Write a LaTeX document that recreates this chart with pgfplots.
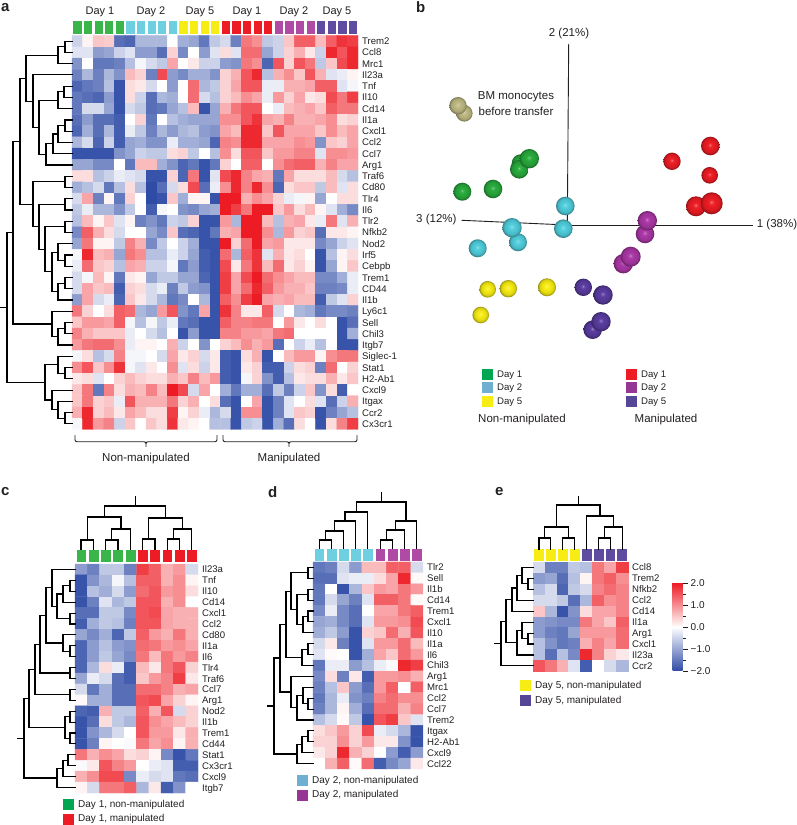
\documentclass[border=0pt]{standalone}
\usepackage{pgfplots}
\usepackage{fontspec}
\setmainfont{Liberation Sans}
\pgfplotsset{compat=1.18}
\definecolor{tc}{RGB}{35,31,32}
\definecolor{colg}{RGB}{57,181,74}
\definecolor{colc}{RGB}{109,207,223}
\definecolor{coly}{RGB}{247,236,19}
\definecolor{colr}{RGB}{237,28,36}
\definecolor{colm}{RGB}{176,75,165}
\definecolor{colp}{RGB}{95,75,159}
\definecolor{lc}{RGB}{110,175,210}
\definecolor{lm}{RGB}{150,55,150}
\definecolor{lg}{RGB}{0,166,81}
\definecolor{lp}{RGB}{85,70,150}
\definecolor{bt}{RGB}{190,185,130}
\definecolor{bg}{RGB}{40,170,60}
\definecolor{bc}{RGB}{80,205,220}
\definecolor{bm}{RGB}{170,55,165}
\definecolor{bp}{RGB}{90,60,160}
\newcommand\fa{\fontsize{9.6}{11}\selectfont}
\newcommand\fb{\fontsize{11.5}{13}\selectfont}
\newcommand\fc{\fontsize{10}{12}\selectfont}
\newcommand\mksph[1]{%
  \pgfdeclareradialshading{s#1}{\pgfpoint{-1bp}{3bp}}{color(0bp)=(#1!50!white); color(3bp)=(#1!88!white); color(8bp)=(#1); color(19bp)=(#1!90!black); color(25bp)=(#1!62!black); color(50bp)=(#1!62!black)}%
  \pgfdeclareplotmark{m#1}{\pgfpathcircle{\pgfpointorigin}{\pgfplotmarksize}\pgfshadepath{s#1}{0}\pgfusepath{discard}}}
\mksph{bt}\mksph{bg}\mksph{bc}\mksph{bm}\mksph{bp}\mksph{colr}\mksph{coly}
\pgfplotsset{
  colormap={bwr}{rgb255(0cm)=(46,75,166); rgb255(1cm)=(255,255,255); rgb255(2cm)=(237,28,36)},
  hm/.style={scale only axis, clip=false, y dir=reverse, axis line style={draw=none},
    colormap name=bwr, point meta min=-2, point meta max=2,
    xtick=\empty, yticklabel pos=right, major tick length=0pt, tick style={draw=none},
    enlargelimits=false,
    yticklabel style={anchor=west, inner sep=0pt, xshift=4pt, font=\fa, text=tc, text height=7pt, text depth=0pt}},
  px/.style={scale only axis, hide axis, clip=false, y dir=reverse},
  den/.style={no marks, black, line width=1.1pt, line cap=rect, forget plot},
  sa/.style={only marks, mark=square*, mark size=6, mark options={xscale=0.6,draw=none,fill=#1}, color=#1},
  sb/.style={only marks, mark=square*, mark size=5.5, mark options={xscale=0.8,draw=none,fill=#1}, color=#1},
}
\newcommand\heat[2]{\addplot[matrix plot*,mesh/cols=#1,mesh/ordering=x varies,point meta=explicit] table[header=false,row sep=crcr,x expr={\coordindex-#1*floor((\coordindex+0.5)/#1)},y expr={floor((\coordindex+0.5)/#1)},meta index=0]{#2};}
\newcommand\lk[5]{\addplot[den] coordinates {(#1,#2)(#3,#2)(#3,#4)(#5,#4)};}
\newcommand\tk[5]{\addplot[den] coordinates {(#1,#2)(#1,#3)(#4,#3)(#4,#5)};}
\newcommand\sph[4]{\addplot[only marks,mark=m#1,mark size=#2] coordinates {(#3,#4)};}
\newcommand\sq[3]{\addplot[only marks,mark=square*,mark size=5,color=#1] coordinates {(#2,#3)};}
\newcommand\txt[4][west]{\node[anchor=#1,inner sep=0pt,font=#2,text=tc] at (axis cs:#3) {#4};}
\begin{document}
\begin{tikzpicture}
\useasboundingbox (0,0) rectangle (796pt,825pt);
% ---------- panel a heatmap
\begin{axis}[hm, at={(72pt,789.5pt)}, anchor=north west, width=286pt, height=394pt,
  xmin=-0.5,xmax=26.5,ymin=-0.5,ymax=34.5, ytick={0,...,34},
  yticklabels={Trem2,Ccl8,Mrc1,Il23a,Tnf,Il10,Cd14,Il1a,Cxcl1,Ccl2,Ccl7,Arg1,Traf6,Cd80,Tlr4,Il6,Tlr2,Nfkb2,Nod2,Irf5,Cebpb,Trem1,CD44,Il1b,Ly6c1,Sell,Chil3,Itgb7,Siglec-1,Stat1,H2-Ab1,Cxcl9,Itgax,Ccr2,Cx3cr1}]
\heat{27}{
-0.5\\0.1\\0.5\\0.45\\-1.6\\-1.7\\-0.8\\-0.8\\-0.8\\0\\-0.9\\-1\\-1.5\\-0.6\\-0.4\\-1.4\\1.2\\1\\-0.6\\-0.5\\0.5\\1.4\\1.4\\0.6\\1.4\\1.8\\1.7\\
-0.3\\-0.3\\-1.1\\-1\\-0.5\\-0.3\\-1.1\\-1.1\\-1.6\\0.4\\-1.3\\0\\-1.1\\-0.3\\0.3\\-0.3\\1.3\\1.3\\-1\\-0.5\\0.4\\0.7\\0.2\\-0.5\\1.9\\1.5\\1.9\\
-1.2\\0\\-1.5\\-1.5\\-1.4\\-0.7\\-0.1\\-0.4\\-0.6\\0.8\\0\\0.2\\-0.5\\-0.5\\-1.1\\-1.2\\1.2\\1\\-1.7\\1.5\\0.4\\1.5\\1.2\\-0.6\\0.5\\1.6\\1.9\\
-1.4\\-0.8\\-1.4\\-0.8\\-1.2\\0.6\\0.4\\-1.4\\1.6\\-1.1\\-1.3\\-0.9\\-0.9\\-1.2\\0.4\\0.7\\1.5\\1.9\\-0.7\\0.7\\1\\0.5\\1.5\\0.7\\-0.3\\-0.2\\0.1\\
-1.7\\-1.5\\-1.4\\-0.7\\-1.9\\0.3\\0.2\\-0.4\\0\\-1.1\\0\\1.3\\-0.8\\-0.6\\0.4\\0.8\\1.5\\1.5\\-0.2\\-0.2\\0.7\\0.7\\0.8\\1.4\\1.4\\-0.3\\-0.1\\
-1.5\\-1.6\\-1.7\\-1.1\\-1.9\\0.3\\-0.5\\-1.6\\-0.8\\-0.9\\0\\1.3\\-0.4\\-0.7\\0.4\\0.6\\1\\0.8\\-0.2\\0.9\\0.4\\0.8\\0.2\\0.3\\1.6\\1.2\\1.7\\
-1.5\\-0.4\\-0.4\\-1\\-1.9\\-0.4\\-0.6\\-1.6\\-1.5\\-1\\-0.7\\0.6\\-1.9\\-1\\0.7\\1.2\\1.5\\1.5\\0\\-0.2\\0.6\\0.7\\0.8\\0.5\\1.4\\1.2\\1.2\\
-1.6\\-1.1\\-1.6\\-1.6\\-1.8\\0\\0.4\\-1.5\\0\\-0.7\\-0.9\\-1\\-1\\-1\\1\\1\\1.5\\1.8\\0.8\\0.7\\1.1\\0.7\\0.7\\0.8\\1\\0.3\\0.4\\
-1.7\\-0.9\\-1.6\\-0.8\\-1.8\\-0.2\\-0.6\\-1.4\\-0.8\\-1.1\\-0.8\\-0.7\\-1.1\\-1.2\\0.8\\0.6\\1.9\\1.9\\0.5\\1.5\\0.8\\0.8\\0.8\\0.5\\1\\0.6\\0.8\\
-0.8\\-0.4\\-1.7\\-0.5\\-1.8\\-1\\-0.9\\-1.2\\-1.2\\-0.2\\-0.9\\-0.9\\-1\\-1.7\\1.1\\1\\1.9\\1.9\\0.8\\0.8\\0.8\\1\\0.9\\-1.2\\0.5\\0.4\\0.8\\
-1.9\\-1.9\\-1.9\\-1.9\\-1.2\\-1\\-0.5\\-0.6\\-0.6\\0.3\\0.4\\-0.6\\0\\-0.7\\1\\0.3\\1.5\\1.5\\0.5\\0.9\\0.9\\1.1\\1.1\\-0.3\\1\\1\\0.9\\
-1\\-1\\-1.3\\-1.3\\0\\-1.5\\0.6\\0.6\\-0.9\\-1.2\\-1.7\\-1.5\\-1.9\\-1.5\\0.4\\0\\1.4\\1.4\\0\\1\\1.3\\1.4\\1.4\\0.7\\1.1\\0.8\\0.8\\
0.3\\0.3\\-0.7\\-0.5\\-0.2\\-0.3\\-0.4\\-1.9\\-1.9\\0.4\\-1.7\\1.2\\-1.9\\-0.3\\1.6\\1.9\\1.1\\0.8\\0.7\\-1.5\\0.8\\0.3\\0.3\\0.3\\0.6\\-0.4\\-0.7\\
-0.9\\-0.7\\-0.4\\-1.5\\-0.7\\0.3\\-0.7\\-2\\-1.6\\-0.4\\0.3\\1.6\\-1.6\\-0.2\\1\\1.9\\1.1\\1.9\\1\\-1.7\\0.3\\0.5\\0.5\\-0.6\\0.6\\-0.3\\0.3\\
-0.4\\0.8\\-1.4\\0.1\\-1.5\\0.4\\0\\-2\\-1.9\\0.5\\-0.9\\0.1\\0.1\\-1.9\\2\\2\\0.7\\1\\0.8\\0.4\\-0.2\\-0.1\\0.1\\-1\\0\\0.3\\0.3\\
-0.6\\-0.2\\-0.8\\-0.8\\-1.2\\-0.6\\0\\-1.8\\-0.1\\0\\-1.2\\-1.3\\-1\\-0.9\\2\\1.7\\1.2\\2\\2\\0.5\\0.9\\0.3\\0.6\\0.1\\-0.3\\-0.9\\-1.3\\
-0.7\\0.6\\0.1\\0.5\\-0.3\\0.1\\-1.4\\-1.2\\-1.5\\-0.5\\-0.6\\0.4\\-1.9\\-1.9\\0.9\\-0.8\\2\\2\\0.6\\-0.7\\0.7\\0.8\\0.2\\-0.2\\1.2\\-0.3\\0.7\\
-1.3\\1.4\\0.7\\0.3\\-0.4\\0\\0\\-1\\-1.3\\0.5\\-1.6\\-1.7\\-1.9\\-1.5\\0.7\\0.8\\2\\2\\1\\-0.8\\0.9\\0.4\\0.5\\-1.6\\0.2\\0.2\\0.1\\
-1\\1.2\\0.1\\0.1\\-0.6\\1.1\\0.7\\-1.3\\-0.6\\0\\-0.5\\-0.9\\-1.9\\-1.9\\2\\0.4\\1.3\\2\\0.8\\0.9\\0.2\\0.2\\0.2\\-1.3\\-1\\-0.5\\-0.3\\
-0.1\\1.9\\0.6\\0.7\\-1\\1.2\\1\\-0.7\\-0.7\\-0.2\\-0.5\\-1\\-1.8\\-1.9\\1.3\\-0.8\\1.4\\1.8\\-0.3\\0.7\\0.2\\0.3\\0\\-1.9\\-0.7\\0.1\\0.3\\
-0.2\\1.3\\0.5\\0.4\\-0.7\\0.8\\0.7\\-0.5\\-0.5\\-0.1\\-1.5\\-1.1\\-1.8\\-1.9\\1.6\\0.2\\1.2\\1.8\\0.6\\1.3\\0.2\\0.4\\0.1\\-1.9\\-1\\0.1\\0.5\\
-0.4\\-0.1\\0.6\\0.1\\-1.5\\0.2\\0.1\\-1\\-0.6\\-0.6\\-1\\-1\\-1.7\\-1.9\\1.7\\0.8\\1.6\\2\\1.3\\1\\0.8\\0.6\\0.6\\-1.3\\-1.3\\-0.9\\-0.2\\
-0.4\\0.8\\0.5\\0.6\\-1.8\\0.4\\0.3\\-0.4\\-0.2\\-1.4\\-0.6\\-1.1\\-1.2\\-1.9\\1.7\\0.8\\1.3\\1.9\\1.4\\0.9\\0.7\\0.7\\0.5\\-1.4\\-1.4\\-1.3\\-0.2\\
-1.1\\0.8\\-0.4\\-0.2\\-1.7\\0.5\\0.2\\-0.4\\-0.8\\-1.5\\-1.3\\0\\-0.8\\-1.9\\1.4\\1\\1.7\\2\\0.8\\0.7\\0.8\\0.6\\0.6\\-1.8\\-0.6\\-0.3\\0.4\\
1.2\\0.4\\0\\0.3\\1.4\\1.3\\-0.8\\-1\\0.9\\1.5\\-1.2\\-1.5\\0.8\\-1.9\\1.8\\1.1\\0.2\\0.2\\1.4\\-0.4\\0\\-0.8\\-0.9\\-1.5\\-1.3\\-1.3\\-1.4\\
0.5\\0.9\\0.9\\0.8\\1.4\\-0.1\\-0.7\\-0.1\\-0.6\\-0.2\\-1.5\\-1.6\\-1.9\\-1.9\\1.4\\1.1\\1.1\\1.2\\1.2\\0\\0.9\\0.2\\0\\0.3\\0\\-1.9\\-1.6\\
1.1\\0.7\\0.5\\0.5\\0.5\\-0.2\\0\\-0.4\\-0.7\\0\\-1.9\\-1.1\\-1.9\\-1.9\\1.1\\1.1\\0.9\\0.9\\0.8\\1.2\\1.3\\0\\0\\0\\0\\-1.9\\-0.9\\
0.9\\1.2\\1.3\\1.3\\1\\-0.2\\0.1\\0.1\\0\\0.7\\-0.5\\0\\-1.2\\0\\0.4\\0.6\\1\\0.7\\0.9\\-1.6\\0\\-0.5\\-0.2\\-0.7\\0\\-1.9\\-1.9\\
-0.1\\0.3\\-0.7\\-0.4\\1.1\\-0.1\\-0.1\\0\\-0.4\\0.8\\0.2\\0.4\\-0.4\\0.2\\-1.8\\-1.9\\0.3\\0.7\\-1.9\\0\\0.6\\0.9\\0.9\\0.1\\1\\1.2\\1.2\\
1\\1.5\\0.5\\1\\1.8\\-0.1\\-0.3\\0.2\\0\\1\\-0.3\\0.3\\-0.5\\0.2\\-1.8\\-1.9\\0.2\\0.4\\-1.8\\-1.8\\-0.5\\0.3\\0.4\\-1.4\\1.3\\0\\0.4\\
0.2\\0.3\\-0.3\\0\\0.4\\0.6\\0.4\\0.3\\0.3\\0.7\\0.5\\1.1\\0.6\\0.9\\-1.8\\-1.9\\-0.1\\0.4\\-1.2\\-1.8\\-0.7\\0.2\\0.3\\0.3\\0.7\\0.2\\0.5\\
0.5\\1.2\\-1.5\\1.1\\0.3\\0.7\\0.6\\1.1\\0.6\\2\\1.6\\-0.4\\0.8\\0\\-0.9\\-1.5\\-0.9\\-0.9\\-1.6\\-0.6\\-1.4\\-0.5\\0.5\\-1.2\\0.3\\-1.8\\0\\
0.5\\1.2\\0.4\\0.5\\-0.2\\1.5\\0.7\\0.7\\0.7\\1.2\\0.4\\0.7\\0\\0.3\\-1.6\\-1.9\\0\\0.8\\-1.9\\-1.4\\-0.3\\0\\0.3\\-0.3\\-1.6\\-0.5\\0.7\\
0.7\\1.9\\0.4\\0.6\\0.2\\0.8\\0.6\\0.3\\0.3\\1.7\\0.1\\0.4\\-0.2\\-0.8\\-0.4\\-1.9\\1\\1\\-1.9\\-1.4\\-0.3\\0.5\\0.4\\-1.9\\-1.4\\-1\\-0.7\\
-0.1\\1.9\\0.9\\1.1\\-0.5\\0.5\\0\\0.5\\0.3\\1.8\\0.2\\0.1\\0\\-0.7\\-0.7\\-1.9\\-0.6\\-0.5\\-1.9\\-0.9\\-1.6\\0.3\\0\\-1.9\\0.3\\1.1\\1.7\\
}
\addplot[sa=colg] coordinates {(0,-1.255)(1,-1.255)(2,-1.255)(3,-1.255)(4,-1.255)};
\addplot[sa=colc] coordinates {(5,-1.255)(6,-1.255)(7,-1.255)(8,-1.255)(9,-1.255)};
\addplot[sa=coly] coordinates {(10,-1.255)(11,-1.255)(12,-1.255)(13,-1.255)};
\addplot[sa=colr] coordinates {(14,-1.255)(15,-1.255)(16,-1.255)(17,-1.255)(18,-1.255)};
\addplot[sa=colm] coordinates {(19,-1.255)(20,-1.255)(21,-1.255)(22,-1.255)};
\addplot[sa=colp] coordinates {(23,-1.255)(24,-1.255)(25,-1.255)(26,-1.255)};
\end{axis}
% ---------- panel c heatmap
\begin{axis}[hm, at={(75pt,261pt)}, anchor=north west, width=123pt, height=229pt,
  xmin=-0.5,xmax=9.5,ymin=-0.5,ymax=20.5, ytick={0,...,20},
  yticklabels={Il23a,Tnf,Il10,Cd14,Cxcl1,Ccl2,Cd80,Il1a,Il6,Tlr4,Traf6,Ccl7,Arg1,Nod2,Il1b,Trem1,Cd44,Stat1,Cx3cr1,Cxcl9,Itgb7}]
\heat{10}{
-1.1\\-1.4\\-0.6\\-0.6\\-1.4\\1.7\\1.4\\0.7\\0.9\\-0.4\\
-1.9\\-1.2\\-0.8\\-0.1\\-0.7\\1.4\\1.4\\0.7\\1\\0.1\\
-1.9\\-0.7\\-0.9\\-0.4\\-1.1\\1.3\\1.5\\0.9\\1\\0.3\\
-1.9\\-1.4\\-0.3\\-0.8\\-0.6\\1.5\\1.5\\0.7\\1\\0\\
-1.6\\-1.6\\-0.6\\-0.6\\-1.3\\1.5\\1.6\\0.8\\0.7\\0.7\\
-1.8\\-0.9\\-0.6\\-0.7\\-1.4\\1.5\\1.5\\0.8\\0.7\\0.7\\
-1\\-1.3\\-0.9\\-1.7\\-0.6\\1.4\\0.9\\0.7\\1.2\\0.7\\
-1.7\\-1.1\\-0.7\\-1.1\\-1.2\\1.3\\1.2\\0.9\\1\\0.8\\
-1.7\\-1.1\\-0.6\\-1\\-1.3\\1.2\\0.6\\1.2\\0.9\\1.1\\
-1.7\\-0.8\\0.3\\-0.2\\-1.8\\0.6\\0.2\\1.2\\1.5\\0.4\\
-1\\-0.2\\-0.4\\-1.6\\-1.8\\0.5\\0.9\\1.1\\1.7\\0.2\\
-0.4\\-1.5\\-0.9\\-1.6\\-1.6\\1.3\\1.3\\1.1\\0.7\\0.8\\
0.05\\-0.9\\-0.9\\-1.6\\-1.6\\1.5\\1.6\\0.8\\0.4\\0.1\\
-1.7\\-1.8\\0.7\\-0.6\\-0.6\\1.4\\0.7\\1.5\\-0.4\\0.4\\
-1.9\\-1.6\\0.3\\-0.6\\-0.8\\1.5\\1\\0.8\\0.6\\0.4\\
-1.9\\-1.2\\-0.8\\-0.4\\0\\1.5\\0.9\\0.9\\0.2\\0.7\\
-1.9\\-1.4\\0.1\\0\\-0.05\\1.2\\0.8\\1\\0.1\\0.7\\
1.2\\0.7\\1\\0.8\\0.3\\0.4\\0.1\\-1.3\\-1.9\\-1.5\\
-0.05\\0.2\\1.5\\1.1\\0.9\\0\\-0.2\\-0.3\\-1.8\\-1.8\\
0.7\\1\\1.6\\1.6\\-1.3\\-0.2\\-0.4\\-0.3\\-1.5\\-1.6\\
0.1\\-0.4\\1.2\\1.2\\1.4\\-0.8\\0.2\\-1.8\\-1.2\\0\\
}
\addplot[sb=colg] coordinates {(0,-1.28)(1,-1.28)(2,-1.28)(3,-1.28)(4,-1.28)};
\addplot[sb=colr] coordinates {(5,-1.28)(6,-1.28)(7,-1.28)(8,-1.28)(9,-1.28)};
\end{axis}
% ---------- panel d heatmap
\begin{axis}[hm, at={(313pt,263pt)}, anchor=north west, width=110pt, height=207pt,
  xmin=-0.5,xmax=8.5,ymin=-0.5,ymax=18.5, ytick={0,...,18},
  yticklabels={Tlr2,Sell,Il1b,Cd14,Trem1,Cxcl1,Il10,Il1a,Il6,Chil3,Arg1,Mrc1,Ccl2,Ccl7,Trem2,Itgax,H2-Ab1,Cxcl9,Ccl22}]
\heat{9}{
-1.5\\-1.4\\-0.4\\-1.1\\0.6\\0.6\\1.4\\1.4\\-0.4\\
-1.6\\-1.6\\-0.3\\-0.2\\-0.2\\0.3\\0.8\\1.9\\0.05\\
-1.5\\0\\-1.9\\-0.8\\0.5\\0.9\\0.8\\1.2\\0.9\\
-1.5\\-0.4\\-1\\-1.4\\-0.3\\1.4\\1.4\\1.2\\0.05\\
-1.3\\-0.2\\-1.3\\-1.6\\0\\0.8\\0.8\\1.2\\1.4\\
-1\\-0.9\\-1.3\\-1.6\\-0.3\\0.9\\0.9\\1\\1.6\\
-0.9\\-0.6\\-1.1\\-1.9\\0.4\\0.5\\1.3\\0.7\\1.5\\
-0.4\\0.2\\-1.4\\-1.9\\-0.3\\0.9\\0.9\\1.3\\0.6\\
-0.3\\0.05\\0\\-1.9\\-0.9\\0.8\\0.5\\1.3\\0.9\\
-1.5\\-0.2\\-0.2\\-1.1\\-0.7\\-0.2\\-0.05\\1.9\\1.7\\
-1.3\\0.3\\-1.4\\0.2\\-1.8\\0.9\\0.9\\1\\0.7\\
-1.4\\-0.7\\0.5\\-1.1\\-1.6\\0.9\\1.4\\0\\1.4\\
-1.5\\-0.8\\-0.2\\-1.2\\-1.4\\1.1\\1.3\\1\\1\\
-1.4\\-0.8\\0.1\\-0.9\\-1.6\\1.3\\1.3\\0.7\\1.1\\
-0.7\\-0.4\\0.05\\-0.6\\-1.9\\1.5\\1.7\\0.5\\-0.3\\
0.3\\0.5\\0.9\\0.4\\1.6\\-0.2\\-0.4\\-0.8\\-1.9\\
0.4\\0.4\\1\\0.4\\0.9\\0.2\\0.2\\-1.2\\-1.9\\
0.2\\0.4\\1.9\\0.7\\0.4\\0\\-1.1\\-1.8\\-1.1\\
0\\0.7\\1.4\\0.05\\1.3\\-1.8\\-1.3\\-1\\0.2\\
}
\addplot[sb=colc] coordinates {(0,-1.19)(1,-1.19)(2,-1.19)(3,-1.19)(4,-1.19)};
\addplot[sb=colm] coordinates {(5,-1.19)(6,-1.19)(7,-1.19)(8,-1.19)};
\end{axis}
% ---------- panel e heatmap
\begin{axis}[hm, at={(533pt,263pt)}, anchor=north west, width=95pt, height=109.5pt,
  xmin=-0.5,xmax=7.5,ymin=-0.5,ymax=9.5, ytick={0,...,9},
  yticklabels={Ccl8,Trem2,Nfkb2,Ccl2,Cd14,Il1a,Arg1,Cxcl1,Il23a,Ccr2},
  colorbar,
  colorbar style={at={(parent axis.north east)}, anchor=north west, xshift=36pt, yshift=-21pt,
    width=10pt, height=88pt, axis line style={draw=none}, y dir=normal,
    ytick={-2,-1,0,1,2}, minor ytick={-1.5,-0.5,0.5,1.5},
    yticklabels={−2.0,−1.0,0.0,1.0,2.0}, yticklabel pos=right, ytick pos=right,
    tick style={draw=tc, line width=0.4pt}, major tick length=5pt, minor tick length=3pt,
    tick align=outside, yticklabel style={anchor=west, inner sep=0pt, xshift=3pt, font=\fc, text=tc}}]
\heat{8}{
-0.4\\-1.4\\-1.4\\-0.6\\-0.7\\1.2\\0.8\\1.7\\
-1.1\\-1\\-1.6\\-0.7\\0.1\\1.2\\1.4\\1\\
-0.7\\-0.4\\-1.7\\-0.6\\-0.4\\1.1\\1.3\\1.1\\
-0.4\\-0.4\\-0.6\\-1.6\\-0.8\\1.4\\1\\1.1\\
0.5\\-0.8\\-1.9\\-1.2\\0.3\\0.8\\0.8\\1.1\\
-1.1\\-1.2\\-1.3\\-1.3\\1.2\\0.8\\0.5\\1.4\\
-1.1\\-1.4\\-1.5\\-1\\0.9\\0.9\\0.9\\1.3\\
-0.7\\-1.2\\-1.5\\-1.4\\0.7\\1.1\\0.8\\1.3\\
-0.7\\-1.6\\-0.7\\-1.3\\1.9\\1.1\\0.4\\0.2\\
1.5\\1.2\\0.7\\-0.3\\-1.8\\0\\-0.4\\-0.8\\
}
\addplot[sb=coly] coordinates {(0,-1.19)(1,-1.19)(2,-1.19)(3,-1.19)};
\addplot[sb=colp] coordinates {(4,-1.19)(5,-1.19)(6,-1.19)(7,-1.19)};
\end{axis}
% ---------- panel b PCA
\begin{axis}[px, at={(400pt,825pt)}, anchor=north west, width=396pt, height=425pt,
  xmin=400,xmax=796,ymin=0,ymax=425]
\addplot[no marks,tc,line width=0.9pt] coordinates {(568.7,44)(567.3,225)};
\addplot[no marks,tc,line width=0.9pt] coordinates {(567,225)(752.7,225)};
\addplot[no marks,tc,line width=0.9pt] coordinates {(461.7,220.3)(567,225)};
\sph{bt}{8.3}{464.3}{113.3}
\sph{bt}{8.7}{458}{105.7}
\sph{bg}{9}{520.7}{163.3}
\sph{bg}{9.3}{519.3}{169.3}
\sph{bg}{9.7}{529.3}{158.7}
\sph{bg}{9}{462.3}{191.7}
\sph{bg}{9.3}{493}{189}
\sph{colr}{9.3}{710.3}{146}
\sph{colr}{8.7}{672}{161.3}
\sph{colr}{8.3}{709.7}{175.3}
\sph{colr}{10}{696}{206.3}
\sph{colr}{11}{711.7}{203.3}
\sph{bc}{9.3}{565.3}{206}
\sph{bc}{9.3}{563.3}{228.7}
\sph{bc}{9}{518}{242.3}
\sph{bc}{9.7}{512}{227.7}
\sph{bc}{9}{477.7}{248.3}
\sph{bm}{9.3}{645}{234}
\sph{bm}{9.7}{647.3}{220.7}
\sph{bm}{9.7}{623.3}{263.7}
\sph{bm}{10}{630.7}{256.7}
\sph{coly}{8.3}{487.7}{289.3}
\sph{coly}{8.7}{508.3}{288.7}
\sph{coly}{9}{547}{287.3}
\sph{coly}{8.3}{480.7}{315}
\sph{bp}{8.7}{583.3}{287.3}
\sph{bp}{9.7}{603}{295}
\sph{bp}{9.3}{592.7}{329.7}
\sph{bp}{9.7}{601}{321.7}
\txt[center]{\fb}{569,34}{2 (21\%)}
\txt[west]{\fb}{416,220}{3 (12\%)}
\txt[west]{\fb}{756.7,225}{1 (38\%)}
\txt[center]{\fb}{516,97}{BM monocytes}
\txt[center]{\fb}{516,111}{before transfer}
\sq{lg}{487}{374}
\sq{lc}{487}{387.5}
\sq{coly}{487}{401}
\sq{colr}{631}{374}
\sq{lm}{631}{387.5}
\sq{lp}{631}{401}
\txt{\fa}{497,375}{Day 1}
\txt{\fa}{497,388}{Day 2}
\txt{\fa}{497,402}{Day 5}
\txt{\fa}{641,375}{Day 1}
\txt{\fa}{641,388}{Day 2}
\txt{\fa}{641,402}{Day 5}
\txt[center]{\fb}{522,420}{Non-manipulated}
\txt[center]{\fb}{666,420}{Manipulated}
\end{axis}
% ---------- overlay: dendrograms, labels, legends
\begin{axis}[px, at={(0pt,0pt)}, anchor=south west, width=796pt, height=825pt,
  xmin=0,xmax=796,ymin=0,ymax=825]
% a
\lk{72}{41.1}{65}{52.4}{72}
\lk{65}{46.8}{58}{63.6}{72}
\lk{72}{86.2}{64}{97.4}{72}
\lk{64}{91.8}{58}{108.7}{72}
\lk{72}{120}{65}{131.2}{72}
\lk{65}{125.6}{58}{142.5}{72}
\lk{58}{134}{53}{153.7}{72}
\lk{53}{143.9}{46}{165}{72}
\lk{58}{100.2}{39}{154.4}{46}
\lk{72}{74.9}{33}{127.3}{39}
\lk{58}{55.2}{26}{101.1}{33}
\lk{72}{176.2}{65}{187.5}{72}
\lk{72}{198.7}{65}{210}{72}
\lk{72}{221.2}{65}{232.5}{72}
\lk{72}{255}{65}{266.3}{72}
\lk{72}{243.8}{58}{260.6}{65}
\lk{72}{277.5}{65}{288.8}{72}
\lk{65}{283.2}{58}{300}{72}
\lk{58}{252.2}{52}{291.6}{58}
\lk{65}{226.9}{45}{271.9}{52}
\lk{65}{204.3}{39}{249.4}{45}
\lk{65}{181.9}{33}{226.9}{39}
\lk{26}{78.2}{20}{204.4}{33}
\lk{72}{322.5}{65}{333.8}{72}
\lk{65}{328.2}{58}{345}{72}
\lk{72}{311.3}{52}{336.6}{58}
\lk{20}{141.3}{13}{324}{52}
\lk{72}{367.6}{65}{378.8}{72}
\lk{72}{356.3}{58}{373.2}{65}
\lk{72}{412.6}{65}{423.9}{72}
\lk{72}{401.3}{58}{418.2}{65}
\lk{72}{390.1}{52}{409.8}{58}
\lk{58}{364.8}{45}{400}{52}
\lk{13}{232.6}{7}{382.4}{45}
\addplot[den] coordinates {(0.5,307.5)(7,307.5)};
% c left
\lk{75}{580.4}{70}{591.3}{75}
\lk{70}{585.9}{63}{602.2}{75}
\lk{75}{613.1}{70}{624}{75}
\lk{63}{594}{57}{618.5}{70}
\lk{75}{569.5}{52}{606.3}{57}
\lk{75}{645.8}{70}{656.7}{75}
\lk{75}{634.9}{63}{651.2}{70}
\lk{52}{587.9}{46}{643}{63}
\lk{75}{667.6}{70}{678.5}{75}
\lk{46}{615.5}{40}{673}{70}
\lk{75}{689.4}{70}{700.3}{75}
\lk{40}{644.3}{35}{694.9}{70}
\lk{75}{711.2}{70}{722.1}{75}
\lk{75}{733}{70}{743.9}{75}
\lk{70}{716.6}{65}{738.5}{70}
\lk{35}{669.6}{29}{727.5}{65}
\lk{75}{754.8}{68}{765.7}{75}
\lk{68}{760.2}{63}{776.6}{75}
\lk{63}{768.4}{57}{787.5}{75}
\lk{29}{698.5}{24}{778}{57}
\addplot[den] coordinates {(18,738.2)(24,738.2)};
% c top
\tk{81}{549}{540}{93.5}{549}
\tk{105.8}{549}{540}{118}{549}
\tk{111.9}{540}{529}{130.3}{549}
\tk{87.2}{540}{517}{121}{529}
\tk{142.6}{549}{539}{155}{549}
\tk{167.3}{549}{539}{179.6}{549}
\tk{173.5}{539}{529}{191.9}{549}
\tk{148.8}{539}{518}{182.7}{529}
\tk{104.1}{517}{506}{165.7}{518}
\addplot[den] coordinates {(135.8,506)(135.8,497)};
% d left
\lk{313}{567.4}{308}{578.3}{313}
\lk{313}{589.2}{308}{600.1}{313}
\lk{313}{611}{308}{621.9}{313}
\lk{308}{616.5}{303}{632.8}{313}
\lk{308}{594.6}{297}{624.6}{303}
\lk{308}{572.9}{291}{609.6}{297}
\lk{313}{643.7}{308}{654.6}{313}
\lk{308}{649.2}{302}{665.5}{313}
\lk{291}{591.2}{286}{657.3}{302}
\lk{313}{698.2}{308}{709.1}{313}
\lk{313}{687.3}{303}{703.6}{308}
\lk{303}{695.5}{297}{720}{313}
\lk{313}{676.4}{291}{707.7}{297}
\lk{286}{624.2}{280}{692}{291}
\lk{313}{730.9}{308}{741.8}{313}
\lk{308}{736.4}{302}{752.7}{313}
\lk{302}{744.5}{297}{763.6}{313}
\lk{280}{658}{274}{754}{297}
\addplot[den] coordinates {(268,706)(274,706)};
% d top
\tk{319.1}{548}{540}{331.3}{548}
\tk{325.2}{540}{531}{343.5}{548}
\tk{334.3}{531}{521}{355.7}{548}
\tk{345}{521}{512}{367.9}{548}
\tk{380.1}{548}{540}{392.3}{548}
\tk{386.2}{540}{530}{404.5}{548}
\tk{395.4}{530}{521}{416.7}{548}
\tk{356.4}{512}{502}{406}{521}
\addplot[den] coordinates {(381.2,502)(381.2,493)};
% e left
\lk{533}{578.4}{528}{589.4}{533}
\lk{533}{567.5}{522}{583.9}{528}
\lk{522}{575.7}{517}{600.3}{533}
\lk{517}{588}{512}{611.2}{533}
\lk{533}{633.1}{528}{644}{533}
\lk{533}{622.2}{522}{638.6}{528}
\lk{522}{630.4}{517}{655}{533}
\lk{512}{599.6}{506}{642.7}{517}
\lk{506}{621.2}{501}{665.9}{533}
\addplot[den] coordinates {(495,643.5)(501,643.5)};
% e top
\tk{539}{549}{538}{550.8}{549}
\tk{562.7}{549}{538}{574.6}{549}
\tk{544.9}{538}{527}{568.6}{538}
\tk{598.4}{549}{538}{610.3}{549}
\tk{604.3}{538}{527}{622.2}{549}
\tk{586.5}{549}{516}{613.3}{527}
\tk{556.8}{527}{505}{600}{516}
\addplot[den] coordinates {(578.4,505)(578.4,497)};
% brackets
\addplot[no marks,tc,line width=0.9pt,rounded corners=2pt] coordinates {(75,435)(75,441.7)(146,441.7)(146,448)(146,441.7)(217,441.7)(217,435)};
\addplot[no marks,tc,line width=0.9pt,rounded corners=2pt] coordinates {(223,435)(223,441.7)(289,441.7)(289,448)(289,441.7)(357,441.7)(357,435)};
\txt[center]{\fb}{146,459}{Non-manipulated}
\txt[center]{\fb}{289,459}{Manipulated}
\txt[center]{\fontsize{11}{13}\selectfont}{100,12}{Day 1}
\txt[center]{\fontsize{11}{13}\selectfont}{151,12}{Day 2}
\txt[center]{\fontsize{11}{13}\selectfont}{200,12}{Day 5}
\txt[center]{\fontsize{11}{13}\selectfont}{247,12}{Day 1}
\txt[center]{\fontsize{11}{13}\selectfont}{294,12}{Day 2}
\txt[center]{\fontsize{11}{13}\selectfont}{337,12}{Day 5}
% legends
\sq{lg}{68}{804.5}
\sq{colr}{68}{819}
\txt{\fc}{78,805}{Day 1, non-manipulated}
\txt{\fc}{78,819}{Day 1, manipulated}
\sq{lc}{302}{780}
\sq{lm}{302}{795}
\txt{\fc}{312,781}{Day 2, non-manipulated}
\txt{\fc}{312,795}{Day 2, manipulated}
\sq{coly}{525}{685.5}
\sq{lp}{525}{700}
\txt{\fc}{535,686}{Day 5, non-manipulated}
\txt{\fc}{535,701}{Day 5, manipulated}
% panel letters
\txt{\fontsize{15}{17}\selectfont\bfseries}{1,8}{a}
\txt{\fontsize{15}{17}\selectfont\bfseries}{416,7}{b}
\txt{\fontsize{15}{17}\selectfont\bfseries}{1,492}{c}
\txt{\fontsize{15}{17}\selectfont\bfseries}{268,492}{d}
\txt{\fontsize{15}{17}\selectfont\bfseries}{495,492}{e}
\end{axis}
\end{tikzpicture}
\end{document}
